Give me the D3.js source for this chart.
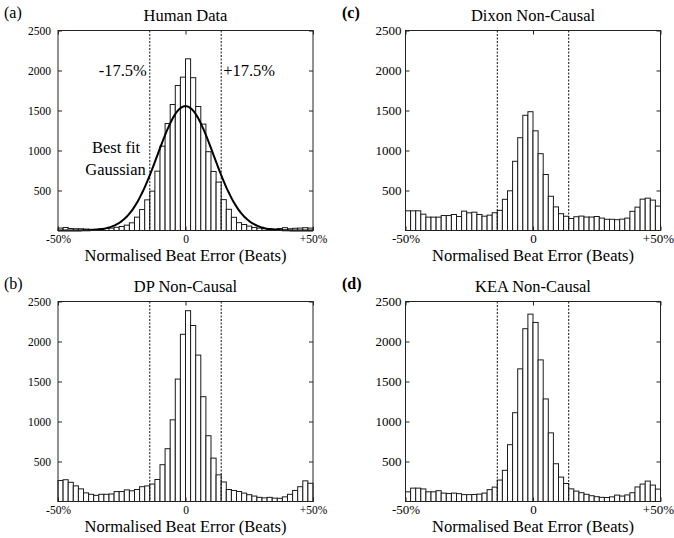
<!DOCTYPE html>
<html>
<head>
<meta charset="utf-8">
<script src="https://cdn.jsdelivr.net/npm/d3@7"></script>
<style>
  html, body { margin: 0; padding: 0; background: #fff; }
  svg { display: block; }
  text { font-family: "Liberation Serif", "Times New Roman", serif; fill: #000; }
</style>
</head>
<body>
<svg id="chart" width="674" height="538"></svg>
<script>
// ---------------- DATA ----------------
// 50 histogram bins of width 2 (%), from -50% to +50%
const binStarts = d3.range(-50, 50, 2);

const humanCounts = [30, 38, 25, 22, 22, 18, 15, 15, 20, 25, 30, 40,
  50, 67, 96, 167, 262, 383, 492, 742, 1054, 1337, 1575, 1812, 1917,
  2146, 1910, 1550, 1330, 985, 738, 605, 386, 265, 165, 98, 75, 55, 38,
  30, 22, 20, 18, 25, 35, 22, 28, 30, 35, 30];

const dpCounts = [262, 272, 240, 195, 158, 108, 90, 77, 90, 90, 94, 124,
  124, 145, 134, 150, 185, 195, 218, 275, 460, 660, 1021, 1530, 2090,
  2385, 2200, 1830, 1310, 822, 542, 333, 244, 150, 138, 125, 105, 85, 68,
  52, 45, 52, 42, 40, 58, 90, 138, 185, 258, 228];

const dixonCounts = [246, 246, 246, 204, 167, 167, 167, 187, 187, 200, 175, 242,
  221, 229, 200, 179, 192, 222, 252, 390, 496, 865, 1160, 1440, 1485,
  1246, 960, 700, 428, 295, 210, 178, 150, 172, 180, 168, 168, 175, 155,
  140, 140, 135, 142, 155, 240, 292, 392, 404, 380, 305];

const keaCounts = [121, 167, 167, 157, 121, 121, 135, 105, 100, 105, 98, 86,
  86, 88, 92, 105, 148, 180, 268, 390, 710, 1110, 1658, 2160, 2342,
  2238, 1770, 1282, 858, 472, 305, 225, 158, 130, 110, 90, 72, 60, 52,
  50, 58, 80, 68, 82, 110, 182, 218, 255, 205, 155];

const panelTitles = ["Human Data", "DP Non-Causal", "Dixon Non-Causal", "KEA Non-Causal"];
const panelLetters = ["(a)", "(b)", "(c)", "(d)"];
const xAxisTitle = "Normalised Beat Error (Beats)";

const yTicks = [500, 1000, 1500, 2000, 2500];
const xTicks = [-50, 0, 50];
const xTickLabels = ["-50%", "0", "+50%"];

const thresholds = [-14, 14];               // dashed window edges
const thresholdLabels = ["-17.5%", "+17.5%"];

// best fit Gaussian parameters (human data)
const gaussAmp = 1555, gaussMean = 0, gaussSd = 11;

// ---------------- LAYOUT ----------------
const svg = d3.select("#chart");
const W = 255, H = 200;
const FONT = "'Liberation Serif', 'Times New Roman', serif";

const panels = [
  { counts: humanCounts, title: panelTitles[0], letter: panelLetters[0], left: 58,    top: 30.5,  tick: 11.5, bold: false, letterX: 4,   gauss: true,  right: false },
  { counts: dpCounts,    title: panelTitles[1], letter: panelLetters[1], left: 58,    top: 301.5, tick: 11.5, bold: false, letterX: 4,   gauss: false, right: false },
  { counts: dixonCounts, title: panelTitles[2], letter: panelLetters[2], left: 405.5, top: 30.5,  tick: 13,   bold: true,  letterX: 342, gauss: false, right: true },
  { counts: keaCounts,   title: panelTitles[3], letter: panelLetters[3], left: 405.5, top: 301.5, tick: 13,   bold: true,  letterX: 342, gauss: false, right: true }
];

panels.forEach((p) => {
  const x = d3.scaleLinear().domain([-50, 50]).range([0, W]);
  const y = d3.scaleLinear().domain([0, 2500]).range([H, 0]);

  const g = svg.append("g").attr("transform", `translate(${p.left},${p.top})`);

  // bars
  g.append("g").selectAll("rect")
    .data(binStarts.map((s, i) => ({ s, v: p.counts[i] })))
    .join("rect")
    .attr("x", d => x(d.s))
    .attr("y", d => y(d.v))
    .attr("width", d => x(d.s + 2) - x(d.s))
    .attr("height", d => y(0) - y(d.v))
    .attr("fill", "#fff")
    .attr("stroke", "#1a1a1a")
    .attr("stroke-width", 1);

  // dashed thresholds
  g.append("g").selectAll("line")
    .data(thresholds)
    .join("line")
    .attr("x1", d => x(d)).attr("x2", d => x(d))
    .attr("y1", y(2500)).attr("y2", y(0))
    .attr("stroke", "#111")
    .attr("stroke-width", 1)
    .attr("stroke-dasharray", "2,1.5");

  // gaussian
  if (p.gauss) {
    const xs = d3.range(-50, 50.01, 0.5);
    const line = d3.line()
      .x(d => x(d))
      .y(d => y(gaussAmp * Math.exp(-((d - gaussMean) ** 2) / (2 * gaussSd * gaussSd))))
      .curve(d3.curveBasis);
    g.append("path")
      .datum(xs)
      .attr("d", line)
      .attr("fill", "none")
      .attr("stroke", "#000")
      .attr("stroke-width", 2);

    g.append("text")
      .attr("x", x(thresholds[0]) - 3).attr("y", 45)
      .attr("text-anchor", "end")
      .attr("font-size", 16.5)
      .text(thresholdLabels[0]);
    g.append("text")
      .attr("x", x(thresholds[1]) + 2).attr("y", 45)
      .attr("text-anchor", "start")
      .attr("font-size", 16.5)
      .text(thresholdLabels[1]);
    g.append("text")
      .attr("x", 58).attr("y", 122.5)
      .attr("text-anchor", "middle")
      .attr("font-size", 16.5)
      .text("Best fit");
    g.append("text")
      .attr("x", 57.5).attr("y", 144.5)
      .attr("text-anchor", "middle")
      .attr("font-size", 16.5)
      .text("Gaussian");
  }

  // axes (inner ticks, MATLAB style)
  const yl = g.append("g")
    .call(d3.axisLeft(y).tickValues(yTicks).tickSizeInner(-4).tickSizeOuter(0)
      .tickPadding(p.right ? 4 : 7).tickFormat(d3.format("d")));
  const yr = g.append("g").attr("transform", `translate(${W},0)`)
    .call(d3.axisRight(y).tickValues(yTicks).tickSizeInner(-4).tickSizeOuter(0).tickFormat(""));
  const xb = g.append("g").attr("transform", `translate(0,${H})`)
    .call(d3.axisBottom(x).tickValues(xTicks).tickSizeInner(-4).tickSizeOuter(0)
      .tickPadding(p.right ? 3 : 4.5)
      .tickFormat((d, i) => xTickLabels[i]));
  const xt = g.append("g")
    .call(d3.axisTop(x).tickValues(xTicks).tickSizeInner(-4).tickSizeOuter(0).tickFormat(""));

  [yl, yr, xb, xt].forEach(a => {
    a.attr("font-family", null);
    a.select(".domain").remove();
    a.selectAll(".tick line").attr("stroke", "#222");
    a.selectAll("text")
      .style("font-family", FONT)
      .style("font-size", p.tick + "px")
      .attr("fill", "#000");
  });

  // keep the right-most "+50%" inside the page on right-hand panels
  if (p.right) {
    xb.selectAll(".tick text").filter(d => d === 50)
      .attr("text-anchor", "end").attr("x", 13);
  }

  // frame
  g.append("rect")
    .attr("x", 0).attr("y", 0).attr("width", W).attr("height", H)
    .attr("fill", "none").attr("stroke", "#222").attr("stroke-width", 1);

  // title
  g.append("text")
    .attr("x", W / 2).attr("y", -9.5)
    .attr("text-anchor", "middle")
    .attr("font-size", 16.5)
    .text(p.title);

  // x axis title
  g.append("text")
    .attr("x", W / 2).attr("y", H + 30)
    .attr("text-anchor", "middle")
    .attr("font-size", 16.5)
    .text(xAxisTitle);

  // panel letter
  svg.append("text")
    .attr("x", p.letterX).attr("y", p.top - 13)
    .attr("font-size", 16)
    .attr("font-weight", p.bold ? "bold" : "normal")
    .text(p.letter);
});
</script>
</body>
</html>
